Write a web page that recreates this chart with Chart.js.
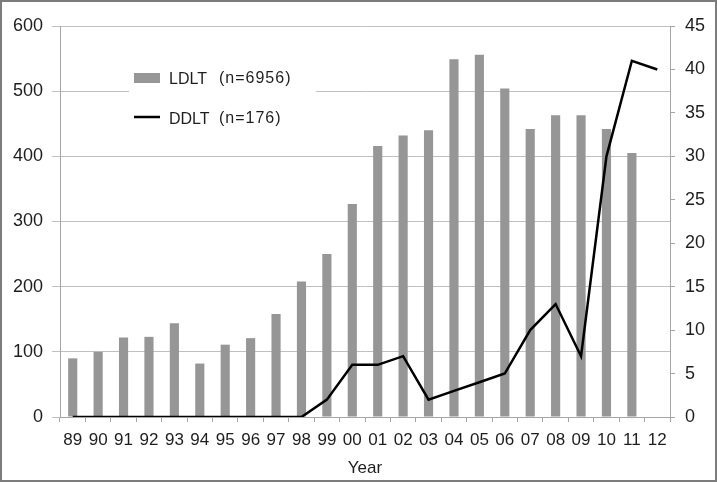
<!DOCTYPE html>
<html lang="en">
<head>
    <meta charset="UTF-8">
    <title>LDLT / DDLT by year</title>
    <script src="https://cdn.jsdelivr.net/npm/chart.js"></script>
    <style>
        body { margin: 0; background: #fff; }
        #chart { display: block; }
    </style>
</head>
<body>
    <canvas id="chart" width="717" height="482"></canvas>

    <script>
        // data
        const years = ['89','90','91','92','93','94','95','96','97','98','99','00',
                       '01','02','03','04','05','06','07','08','09','10','11','12'];
        const ldlt = [90, 100, 122, 123, 144, 82, 111, 121, 158, 208, 250, 327,
                      416, 432, 440, 549, 556, 504, 442, 463, 463, 442, 405, null];
        const ddlt = [0, 0, 0, 0, 0, 0, 0, 0, 0, 0, 2, 6,
                      6, 7, 2, 3, 4, 5, 10, 13, 7, 30, 41, 40];
        const seriesNames = ['LDLT', 'DDLT'];
        const seriesCounts = ['(n=6956)', '(n=176)'];

        const font = 'Liberation Sans, Arial, sans-serif';
        const gridColor = '#c0c0c0';
        const axisColor = '#a6a6a6';
        const textColor = '#1e1e1e';

        // white background + thin frame round the picture
        const framePlugin = {
            id: 'frame',
            beforeDraw(chart) {
                const ctx = chart.ctx;
                ctx.save();
                ctx.fillStyle = '#fff';
                ctx.fillRect(0, 0, chart.width, chart.height);
                ctx.restore();
            },
            afterDraw(chart) {
                const ctx = chart.ctx;
                ctx.save();
                ctx.strokeStyle = '#7c7c7c';
                ctx.lineWidth = 2;
                ctx.strokeRect(1, 1, chart.width - 2, chart.height - 2);
                ctx.restore();
            }
        };

        // legend sits inside the plot, top left, on a white patch
        const innerLegend = {
            id: 'innerLegend',
            afterDatasetsDraw(chart) {
                const ctx = chart.ctx;
                const ds = chart.data.datasets;
                ctx.save();
                ctx.fillStyle = '#fff';
                ctx.fillRect(129, 58, 187, 76);
                ctx.font = '16px ' + font;
                ctx.textBaseline = 'middle';
                const rows = [78, 118];
                rows.forEach((y, i) => {
                    if (i === 0) {
                        ctx.fillStyle = ds[0].backgroundColor;
                        ctx.fillRect(134, y - 5, 26, 10);
                    } else {
                        ctx.strokeStyle = ds[1].borderColor;
                        ctx.lineWidth = 2.5;
                        ctx.beginPath();
                        ctx.moveTo(134, y - 1);
                        ctx.lineTo(160, y - 1);
                        ctx.stroke();
                    }
                    ctx.fillStyle = textColor;
                    ctx.letterSpacing = '0px';
                    ctx.fillText(seriesNames[i], 169, y + 2);
                    ctx.letterSpacing = '1px';
                    ctx.fillText(seriesCounts[i], 219, y + 1);
                });
                ctx.restore();
            }
        };

        new Chart(document.getElementById('chart'), {
            type: 'bar',
            data: {
                labels: years,
                datasets: [{
                    label: seriesNames[0],
                    data: ldlt,
                    backgroundColor: '#969696',
                    barPercentage: 0.36,
                    categoryPercentage: 1,
                    yAxisID: 'y',
                    order: 2
                }, {
                    type: 'line',
                    label: seriesNames[1],
                    data: ddlt,
                    borderColor: '#000',
                    borderWidth: 2.5,
                    pointRadius: 0,
                    tension: 0,
                    yAxisID: 'y1',
                    order: 1
                }]
            },
            options: {
                responsive: false,
                animation: false,
                layout: { padding: { top: 26, left: 0, right: 0, bottom: 0 } },
                plugins: {
                    legend: { display: false },
                    tooltip: { enabled: false }
                },
                scales: {
                    x: {
                        offset: true,
                        grid: { drawOnChartArea: false, offset: true, color: axisColor, tickLength: 5 },
                        border: { color: axisColor },
                        ticks: { color: textColor, font: { family: font, size: 17 }, padding: 8, maxRotation: 0, autoSkip: false },
                        title: { display: true, text: 'Year', color: textColor, font: { family: font, size: 17 }, padding: { top: 4, bottom: 3 } },
                        afterFit(scale) { scale.height = 65; }
                    },
                    y: {
                        position: 'left',
                        min: 0,
                        max: 600,
                        ticks: { stepSize: 100, color: textColor, font: { family: font, size: 18 }, padding: 9 },
                        grid: { color: gridColor, tickLength: 8 },
                        border: { color: axisColor },
                        afterFit(scale) { scale.width = 60; }
                    },
                    y1: {
                        position: 'right',
                        min: 0,
                        max: 45,
                        ticks: { stepSize: 5, color: textColor, font: { family: font, size: 18 }, padding: 10 },
                        grid: { drawOnChartArea: false, color: axisColor, tickLength: 5 },
                        border: { color: axisColor },
                        afterFit(scale) { scale.width = 47; }
                    }
                }
            },
            plugins: [framePlugin, innerLegend]
        });
    </script>
</body>
</html>
